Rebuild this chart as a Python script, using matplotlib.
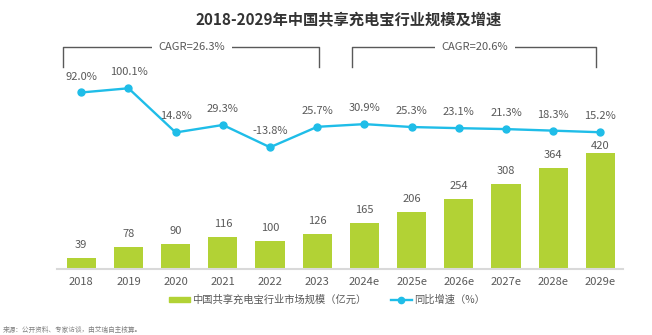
# plot.py
# 2018-2029 China shared power bank market size and growth rate

import matplotlib.pyplot as plt
import numpy as np

plt.rcParams["font.family"] = ["Noto Sans CJK SC", "DejaVu Sans"]

years = ["2018", "2019", "2020", "2021", "2022", "2023",
         "2024e", "2025e", "2026e", "2027e", "2028e", "2029e"]
market_size = [39, 78, 90, 116, 100, 126, 165, 206, 254, 308, 364, 420]  # 亿元
growth = [92.0, 100.1, 14.8, 29.3, -13.8, 25.7, 30.9, 25.3, 23.1, 21.3, 18.3, 15.2]  # %
cagr_labels = ["CAGR=26.3%", "CAGR=20.6%"]

BAR_COLOR = "#b2d235"
LINE_COLOR = "#1fbde8"
TEXT_COLOR = "#595959"


def main():
    W, H = 652, 335
    fig = plt.figure(figsize=(W / 100, H / 100), dpi=100)

    # axes placed in pixel terms of the reference
    left, right, bottom, top = 57, 623, 268.7, 40
    ax = fig.add_axes([left / W, 1 - bottom / H, (right - left) / W, (bottom - top) / H])
    x = np.arange(len(years))

    ax.bar(x, market_size, width=0.62, color=BAR_COLOR, zorder=2)
    ax.set_xlim(-0.515, 11.48)
    ax.set_ylim(0, 830)
    for i, v in enumerate(market_size):
        off = 5 if i == len(years) - 1 else 9.4
        ax.annotate(f"{v}", (i, v), xytext=(0, off), textcoords="offset points",
                    ha="center", va="center", fontsize=8, color=TEXT_COLOR)

    ax.set_xticks(x)
    ax.set_xticklabels(years)
    ax.tick_params(axis="x", length=0, pad=6, labelsize=8, labelcolor=TEXT_COLOR)
    ax.set_yticks([])
    for s in ["left", "right", "top"]:
        ax.spines[s].set_visible(False)
    ax.spines["bottom"].set_color("#d9d9d9")
    ax.spines["bottom"].set_linewidth(1.5)

    ax2 = ax.twinx()
    ax2.plot(x, growth, color=LINE_COLOR, lw=1.7, marker="o", ms=5, zorder=3)
    ax2.set_ylim(-248.2, 193.3)
    ax2.set_yticks([])
    ax2.axis("off")
    for i, v in enumerate(growth):
        ax2.annotate(f"{v:.1f}%", (i, v), xytext=(0, 11.5), textcoords="offset points",
                     ha="center", va="center", fontsize=8, color=TEXT_COLOR)

    # CAGR brackets (figure pixel coords)
    brackets = [(63, 319, 192), (352, 596, 475)]
    for (x0, x1, xt), lab in zip(brackets, cagr_labels):
        yb, yt = 1 - 67 / H, 1 - 47 / H
        fig.add_artist(plt.Line2D([x0 / W, x0 / W, x1 / W, x1 / W], [yb, yt, yt, yb],
                                  color="#595959", lw=1))
        fig.text(xt / W, yt, lab, ha="center", va="center", fontsize=8, color=TEXT_COLOR,
                 bbox=dict(facecolor="white", edgecolor="none", pad=5))

    fig.text(349 / W, 1 - 20 / H, "2018-2029年中国共享充电宝行业规模及增速",
             ha="center", va="center", fontsize=11, fontweight="bold", color="#333333")

    handles = [plt.Rectangle((0, 0), 1, 1, color=BAR_COLOR),
               plt.Line2D([], [], color=LINE_COLOR, lw=1.7, marker="o", ms=4.5)]
    fig.legend(handles, ["中国共享充电宝行业市场规模（亿元）", "同比增速（%）"],
               loc="center", bbox_to_anchor=(327 / W, 1 - 300 / H), ncol=2, frameon=False,
               fontsize=7.4, labelcolor=TEXT_COLOR, handlelength=2.0, handleheight=0.5,
               handletextpad=0.2, columnspacing=2.4)

    fig.text(3 / W, 1 - 330 / H, "来源：公开资料、专家访谈，由艾瑞自主核算。",
             ha="left", va="center", fontsize=4.8, color="#7f7f7f")

    fig.savefig("out.png", dpi=100)


if __name__ == "__main__":
    main()
